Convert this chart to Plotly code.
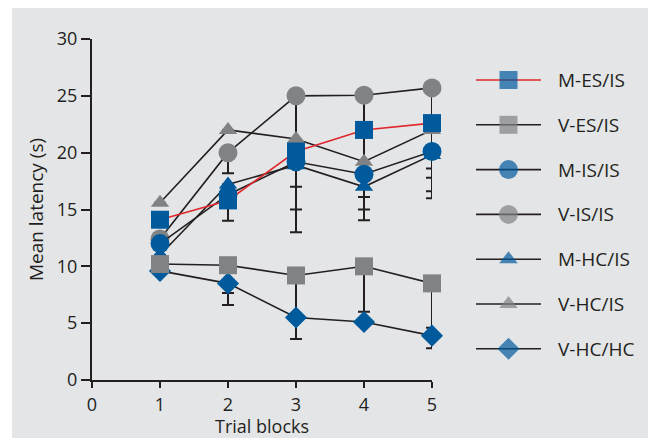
import plotly.graph_objects as go

# ---------------- data ----------------
blocks = [1, 2, 3, 4, 5]
x_ticks = [0, 1, 2, 3, 4, 5]
y_ticks = [0, 5, 10, 15, 20, 25, 30]

names = ["M-ES/IS", "V-ES/IS", "M-IS/IS", "V-IS/IS", "M-HC/IS", "V-HC/IS", "V-HC/HC"]

m_es_is = [14.1, 15.8, 20.1, 22.0, 22.6]
v_es_is = [10.2, 10.1, 9.2, 10.0, 8.5]
m_is_is = [12.0, 16.3, 19.2, 18.1, 20.1]
v_is_is = [12.4, 20.0, 25.0, 25.05, 25.7]
m_hc_is = [11.0, 17.2, 18.9, 17.0, 19.8]
v_hc_is = [15.6, 22.0, 21.2, 19.2, 22.0]
v_hc_hc = [9.6, 8.5, 5.5, 5.1, 3.9]

# lower error bars (None = not visible)
m_es_is_err = [None, 1.8, None, 3.6, 6.6]
v_es_is_err = [None, 3.5, 3.7, 4.0, 3.9]
m_is_is_err = [None, None, 4.2, 2.0, 1.5]
v_is_is_err = [None, 1.8, 4.7, 3.0, 3.1]
m_hc_is_err = [None, None, 1.9, 2.0, 2.0]
v_hc_is_err = [None, None, 8.2, 5.15, 5.4]
v_hc_hc_err = [None, 0.85, 1.9, None, 1.1]

# ---------------- styles ----------------
BLUE = "#005a9c"
GREY = "#808285"
INK = "#231f20"
RED = "#e0262c"
BG = "#e4e5e7"
FONT = "Open Sans"

series = [
    # name, values, errors, marker colour, symbol, size, line colour
    ("M-ES/IS", m_es_is, m_es_is_err, BLUE, "square", 18, RED),
    ("V-ES/IS", v_es_is, v_es_is_err, GREY, "square", 18, INK),
    ("M-IS/IS", m_is_is, m_is_is_err, BLUE, "circle", 19, INK),
    ("V-IS/IS", v_is_is, v_is_is_err, GREY, "circle", 19, INK),
    ("M-HC/IS", m_hc_is, m_hc_is_err, BLUE, "triangle-up", 16, INK),
    ("V-HC/IS", v_hc_is, v_hc_is_err, GREY, "triangle-up", 16, INK),
    ("V-HC/HC", v_hc_hc, v_hc_hc_err, BLUE, "diamond", 17, INK),
]

W, H = 648, 439
L, T, B = 92, 39, 59
plot_w = W - L
plot_h = H - T - B
main_right = 432
leg_left = 476

fig = go.Figure()

# error bars first (beneath every marker)
for name, vals, errs, col, sym, size, lcol in series:
    fig.add_trace(go.Scatter(
        x=blocks, y=vals, mode="markers",
        marker=dict(size=1, opacity=0),
        error_y=dict(type="data", symmetric=False,
                     array=[0 if e is not None else None for e in errs],
                     arrayminus=errs, color=INK, thickness=2, width=6),
        cliponaxis=False, showlegend=False, hoverinfo="skip",
    ))

# main series, drawn bottom to top
for name, vals, errs, col, sym, size, lcol in reversed(series):
    fig.add_trace(go.Scatter(
        x=blocks, y=vals, mode="lines+markers", name=name,
        line=dict(color=lcol, width=1.6),
        marker=dict(symbol=sym, size=size, color=col, line=dict(width=0)),
        cliponaxis=False, showlegend=False,
    ))

# hand-made legend on its own axes (pixel-like units)
leg_len = 65
for i, (name, vals, errs, col, sym, size, lcol) in enumerate(series):
    yy = 41 + i * 44.8
    fig.add_trace(go.Scatter(
        x=[0, leg_len / 2, leg_len], y=[yy, yy, yy],
        mode="lines+markers", xaxis="x2", yaxis="y2",
        line=dict(color=lcol, width=1.6),
        marker=dict(symbol=sym, size=[0, size, 0], color=col, line=dict(width=0)),
        cliponaxis=False, showlegend=False, hoverinfo="skip",
    ))
    fig.add_annotation(x=80, y=yy, xref="x2", yref="y2", text=name,
                       showarrow=False, xanchor="left", yanchor="middle",
                       font=dict(family=FONT, size=19, color=INK))

# x-axis title as an annotation so it can sit lower than plotly allows
fig.add_annotation(x=0.5, xref="x domain", y=(H - B - 439) / plot_h, yref="paper",
                   text="Trial blocks", showarrow=False,
                   xanchor="center", yanchor="bottom", borderpad=0,
                   font=dict(family=FONT, size=18, color=INK))

fig.add_shape(type="rect", xref="paper", yref="paper",
              x0=(12 - L) / plot_w, x1=1.02,
              y0=(H - B - 438) / plot_h, y1=(H - B - 8) / plot_h,
              fillcolor=BG, line=dict(width=0), layer="below")

fig.update_layout(
    width=W, height=H,
    margin=dict(l=L, r=0, t=T, b=B, autoexpand=False),
    paper_bgcolor="white", plot_bgcolor=BG,
    font=dict(family=FONT, size=18, color=INK),
    showlegend=False,
    xaxis=dict(domain=[0, (main_right - L) / plot_w], range=[0, 5],
               tickvals=x_ticks, showline=True, linecolor=INK, linewidth=2,
               ticks="outside", ticklen=6, tickwidth=2, tickcolor=INK,
               showgrid=False, zeroline=False, ticklabelstandoff=1,
               tickfont=dict(size=18)),
    yaxis=dict(range=[0, 30], tickvals=y_ticks, showline=True, linecolor=INK,
               linewidth=2, ticks="outside", ticklen=9, tickwidth=2, tickcolor=INK,
               showgrid=False, zeroline=False, tickfont=dict(size=18),
               title=dict(text="Mean latency (s)", font=dict(size=19), standoff=8)),
    xaxis2=dict(domain=[(leg_left - L) / plot_w, 1], range=[0, W - leg_left],
                visible=False, anchor="y2"),
    yaxis2=dict(domain=[0, 1], range=[plot_h, 0], visible=False, anchor="x2"),
)

fig.write_html("out.html")
